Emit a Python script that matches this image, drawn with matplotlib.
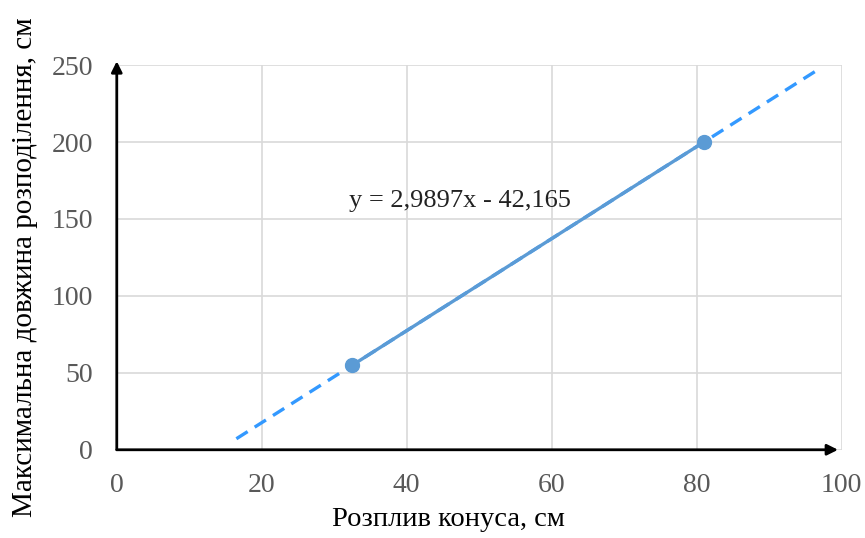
import numpy as np
import matplotlib.pyplot as plt

# measured points
spread = [32.5, 81.0]          # Розплив конуса, см
length = [55, 200]             # Максимальна довжина розподілення, см
forecast = 16                  # trendline forecast both ways
x_ticks = [0, 20, 40, 60, 80, 100]
y_ticks = [0, 50, 100, 150, 200, 250]

plt.rcParams["font.family"] = ["Liberation Serif", "DejaVu Serif"]

fig = plt.figure(figsize=(8.65, 5.38), dpi=100)
ax = fig.add_axes([0.135, 0.164, 0.838, 0.715])

slope, intercept = np.polyfit(spread, length, 1)
tx = np.array([spread[0] - forecast, spread[-1] + forecast])
ax.plot(tx, slope * tx + intercept, color="#3399FF", lw=2.4,
        dashes=(4, 2.5), zorder=2)
ax.plot(spread, length, color="#5B9BD5", lw=2.4, marker="o", ms=10, zorder=3)

sign = "-" if intercept < 0 else "+"
eq = f"y = {slope:.4f}x {sign} {abs(intercept):.3f}".replace(".", ",")
ax.text(47.3, 162, eq, ha="center", va="center", fontsize=19, color="#222222")

ax.set_xlim(0, 100)
ax.set_ylim(0, 250)
ax.set_xticks(x_ticks)
ax.set_yticks(y_ticks)
ax.grid(color="#D9D9D9", lw=1.2)
ax.set_axisbelow(True)
for s in ax.spines.values():
    s.set_visible(False)
ax.tick_params(length=0, labelsize=20, labelcolor="#595959", pad=17)

# axes drawn as arrows
arrow = dict(arrowstyle="-|>", color="black", lw=2, mutation_scale=16,
             shrinkA=0, shrinkB=0)
ax.annotate("", xy=(0, 1.01), xytext=(0, 0), xycoords="axes fraction",
            arrowprops=arrow, annotation_clip=False)
ax.annotate("", xy=(0.995, 0), xytext=(0, 0), xycoords="axes fraction",
            arrowprops=arrow, annotation_clip=False)

ax.set_xlabel("Розплив конуса, см", fontsize=20.5)
ax.set_ylabel("Максимальна довжина розподілення, см", fontsize=21)
ax.xaxis.set_label_coords(0.457, -0.15)
ax.yaxis.set_label_coords(-0.108, 0.475)

fig.savefig("out.png", dpi=100)
